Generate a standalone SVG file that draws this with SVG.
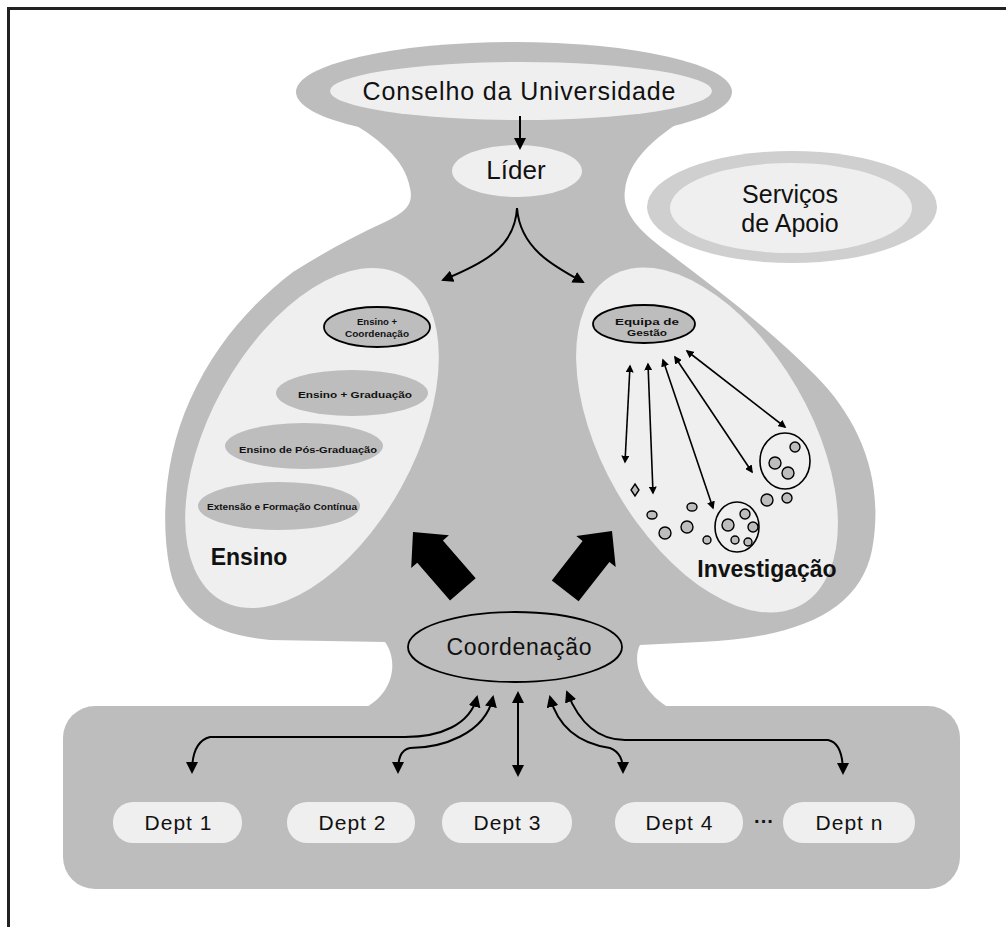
<svg xmlns="http://www.w3.org/2000/svg" width="1006" height="927" viewBox="0 0 1006 927">
  <defs>
    <style>
      .shape { fill: #bdbdbd; }
      .light { fill: #efefef; }
      .ring { fill: #cfcfcf; }
      .outl { fill: #bdbdbd; stroke: #000; stroke-width: 1.8; }
      .lbl { font-family: "Liberation Sans", Arial, sans-serif; fill: #111; text-anchor: middle; }
      .big { font-size: 25px; }
      .dept { font-size: 21px; }
      .bold { font-weight: bold; font-size: 23px; }
      .tiny { font-size: 9px; font-weight: bold; }
      .conn { fill: none; stroke: #000; stroke-width: 2; }
      .thin { fill: none; stroke: #000; stroke-width: 1.6; }
      .blob { fill: #bdbdbd; stroke: #000; stroke-width: 1.4; }
    </style>
    <marker id="ah" viewBox="0 0 12 12" refX="10" refY="6" markerWidth="12" markerHeight="12" markerUnits="userSpaceOnUse" orient="auto-start-reverse">
      <path d="M0,0 L12,6 L0,12 Z" fill="#000"/>
    </marker>
    <marker id="ahs" viewBox="0 0 10 10" refX="8" refY="5" markerWidth="8" markerHeight="8" markerUnits="userSpaceOnUse" orient="auto-start-reverse">
      <path d="M0,0 L10,5 L0,10 Z" fill="#000"/>
    </marker>
  </defs>

  <rect width="1006" height="927" fill="#fff"/>
  <!-- open frame: top and left edges -->
  <path d="M8.5,927 L8.5,8.5 L1006,8.5" fill="none" stroke="#222" stroke-width="3"/>

  <!-- grey organisation silhouette -->
  <g id="silhouette">
    <ellipse class="shape" cx="514" cy="92" rx="218" ry="50"/>
    <path class="shape" d="M340,116 C380,138 405,160 410,188 C414,205 405,212 385,222 C350,238 320,255 293,272 C250,305 215,345 190,400 C165,455 160,520 170,570 C180,615 215,635 270,640 L385,642 C398,660 395,692 365,708 L670,708 C640,692 632,660 640,645 L700,642 C800,638 860,610 872,550 C885,480 860,420 815,375 C760,320 710,285 665,250 C635,228 622,210 625,190 C628,162 652,138 690,116 Z"/>
    <rect class="shape" x="63" y="706" width="897" height="183" rx="32" ry="32"/>
  </g>

  <!-- Conselho da Universidade -->
  <g id="conselho">
    <ellipse class="light" cx="521" cy="91" rx="191" ry="29"/>
    <text class="lbl big" x="519" y="100" textLength="313" lengthAdjust="spacing">Conselho da Universidade</text>
  </g>

  <!-- Líder -->
  <g id="lider">
    <ellipse class="light" cx="517" cy="171" rx="65" ry="26"/>
    <text class="lbl" style="font-size:26px" x="516" y="179">Líder</text>
  </g>

  <!-- Serviços de Apoio -->
  <g id="servicos">
    <ellipse class="ring" cx="792" cy="207" rx="145" ry="56"/>
    <ellipse class="light" cx="791" cy="208" rx="121" ry="45"/>
    <text class="lbl big" x="790" y="203">Serviços</text>
    <text class="lbl big" x="790" y="232">de Apoio</text>
  </g>

  <!-- Ensino -->
  <g id="ensino">
    <ellipse class="light" cx="312" cy="438" rx="102" ry="186" transform="rotate(29 312 438)"/>
    <ellipse class="outl" cx="377" cy="327" rx="53" ry="20"/>
    <text class="lbl tiny" x="377" y="325" textLength="40" lengthAdjust="spacingAndGlyphs">Ensino +</text>
    <text class="lbl tiny" x="377" y="337" textLength="64" lengthAdjust="spacingAndGlyphs">Coordenação</text>
    <ellipse class="shape" cx="352" cy="393" rx="76" ry="23"/>
    <text class="lbl tiny" x="355" y="398" textLength="114" lengthAdjust="spacingAndGlyphs">Ensino + Graduação</text>
    <ellipse class="shape" cx="304" cy="446" rx="79" ry="23"/>
    <text class="lbl tiny" x="308" y="453" textLength="138" lengthAdjust="spacingAndGlyphs">Ensino de Pós-Graduação</text>
    <ellipse class="shape" cx="279" cy="506" rx="81" ry="24"/>
    <text class="lbl tiny" x="282" y="510" textLength="150" lengthAdjust="spacingAndGlyphs">Extensão e Formação Contínua</text>
    <text class="lbl bold" x="249" y="565">Ensino</text>
  </g>

  <!-- Investigação -->
  <g id="investigacao">
    <ellipse class="light" cx="707" cy="440" rx="104" ry="190" transform="rotate(-30 707 440)"/>
    <ellipse class="outl" cx="644" cy="324" rx="51" ry="19"/>
    <text class="lbl tiny" x="647" y="325" textLength="64" lengthAdjust="spacingAndGlyphs">Equipa de</text>
    <text class="lbl tiny" x="647" y="336" textLength="40" lengthAdjust="spacingAndGlyphs">Gestão</text>
    <ellipse fill="none" stroke="#000" stroke-width="1.6" cx="785" cy="461" rx="25" ry="28"/>
    <ellipse fill="none" stroke="#000" stroke-width="1.6" cx="737" cy="527" rx="22" ry="25"/>
    <g class="blob">
      <circle cx="795" cy="447" r="5"/>
      <circle cx="775" cy="463" r="6"/>
      <circle cx="788" cy="473" r="6"/>
      <circle cx="767" cy="500" r="6"/>
      <circle cx="787" cy="498" r="5"/>
      <circle cx="728" cy="525" r="6"/>
      <circle cx="745" cy="514" r="5"/>
      <circle cx="753" cy="527" r="5"/>
      <circle cx="735" cy="540" r="4"/>
      <circle cx="748" cy="542" r="4"/>
      <path d="M635,484 L639,490 L635,496 L631,490 Z"/>
      <ellipse cx="652" cy="515" rx="5" ry="4"/>
      <ellipse cx="692" cy="507" rx="5" ry="4"/>
      <circle cx="665" cy="533" r="6"/>
      <circle cx="687" cy="527" r="6"/>
      <circle cx="707" cy="540" r="4"/>
    </g>
    <text class="lbl bold" x="767" y="577">Investigação</text>
  </g>

  <!-- Coordenação -->
  <g id="coordenacao">
    <ellipse fill="none" stroke="#000" stroke-width="1.8" cx="515" cy="647" rx="107" ry="35"/>
    <text class="lbl" style="font-size:23px" x="519" y="655" textLength="145" lengthAdjust="spacing">Coordenação</text>
  </g>

  <!-- departments -->
  <g id="dept1"><rect class="light" x="113" y="802" width="129" height="41" rx="20"/><text class="lbl dept" x="178" y="830" textLength="67" lengthAdjust="spacing">Dept 1</text></g>
  <g id="dept2"><rect class="light" x="287" y="802" width="128" height="41" rx="20"/><text class="lbl dept" x="352" y="830" textLength="67" lengthAdjust="spacing">Dept 2</text></g>
  <g id="dept3"><rect class="light" x="442" y="802" width="130" height="41" rx="20"/><text class="lbl dept" x="507" y="830" textLength="67" lengthAdjust="spacing">Dept 3</text></g>
  <g id="dept4"><rect class="light" x="615" y="802" width="128" height="41" rx="20"/><text class="lbl dept" x="679" y="830" textLength="67" lengthAdjust="spacing">Dept 4</text></g>
  <text class="lbl" style="font-size:20px;font-weight:bold" x="764" y="828">···</text>
  <g id="deptn"><rect class="light" x="783" y="802" width="132" height="41" rx="20"/><text class="lbl dept" x="849" y="830" textLength="67" lengthAdjust="spacing">Dept n</text></g>

  <!-- connectors -->
  <g id="connectors">
    <path class="conn" d="M520,116 L520,148" marker-end="url(#ah)"/>
    <path class="conn" d="M517,208 C515,248 482,264 443,280" marker-end="url(#ah)"/>
    <path class="conn" d="M517,208 C520,248 553,266 583,282" marker-end="url(#ah)"/>

    <path class="thin" d="M630,366 L625,462" marker-start="url(#ahs)" marker-end="url(#ahs)"/>
    <path class="thin" d="M648,364 L653,493" marker-start="url(#ahs)" marker-end="url(#ahs)"/>
    <path class="thin" d="M663,360 L713,508" marker-start="url(#ahs)" marker-end="url(#ahs)"/>
    <path class="thin" d="M675,357 L752,472" marker-start="url(#ahs)" marker-end="url(#ahs)"/>
    <path class="thin" d="M687,351 L785,427" marker-start="url(#ahs)" marker-end="url(#ahs)"/>

    <polygon fill="#000" points="0,0 25,26 17,26 17,76 -17,76 -17,26 -25,26" transform="translate(413 532) rotate(-41)"/>
    <polygon fill="#000" points="0,0 25,26 17,26 17,76 -17,76 -17,26 -25,26" transform="translate(612 531) rotate(38)"/>

    <path class="conn" d="M477,697 C470,725 440,737 405,737 L210,737 C198,740 192,752 192,772" marker-start="url(#ah)" marker-end="url(#ah)"/>
    <path class="conn" d="M493,697 C485,735 440,748 410,748 C400,750 398,760 398,772" marker-start="url(#ah)" marker-end="url(#ah)"/>
    <path class="conn" d="M518,693 L518,775" marker-start="url(#ah)" marker-end="url(#ah)"/>
    <path class="conn" d="M550,697 C560,735 590,745 610,748 C620,752 623,760 623,772" marker-start="url(#ah)" marker-end="url(#ah)"/>
    <path class="conn" d="M567,692 C580,725 600,740 625,740 L828,740 C838,742 843,752 843,773" marker-start="url(#ah)" marker-end="url(#ah)"/>
  </g>
</svg>
